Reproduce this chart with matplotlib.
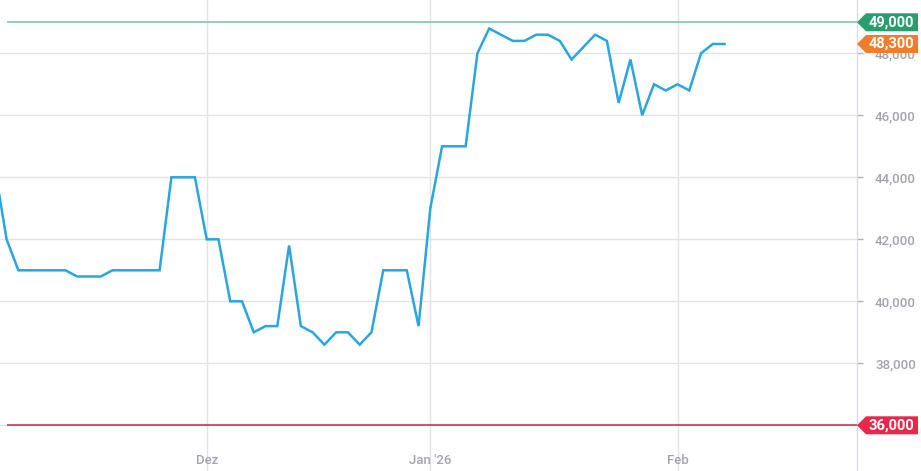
import matplotlib
matplotlib.use("Agg")
import matplotlib.pyplot as plt
from matplotlib.patches import Polygon
from matplotlib.transforms import IdentityTransform
from matplotlib.ticker import FuncFormatter

# ---- data (trading-day series) ----
prices = [44300, 42000,
          41000, 41000, 41000, 41000, 41000,
          40800, 40800, 40800,
          41000, 41000, 41000, 41000, 41000,
          44000, 44000, 44000,
          42000, 42000, 40000, 40000, 39000, 39200, 39200, 41800, 39200, 39000,
          38600, 39000, 39000, 38600, 39000, 41000, 41000, 41000, 39200,
          43000, 45000, 45000, 45000, 48000, 48800, 48600, 48400, 48400, 48600,
          48600, 48400, 47800, 48200, 48600, 48400, 46400, 47800, 46000, 47000,
          46800, 47000, 46800, 48000, 48300, 48300]
month_labels = ["Dez", "Jan '26", "Feb"]
month_index = [18, 37, 58]
grid_levels = [36000, 38000, 40000, 42000, 44000, 46000, 48000]
y_ticks = [38000, 40000, 42000, 44000, 46000, 48000]
upper_level = 49000
lower_level = 36000
last_price = prices[-1]

W, H = 921, 471
fig = plt.figure(figsize=(W / 100, H / 100), dpi=100)
ax = fig.add_axes([0, 0, 857 / W, 1])

x = list(range(len(prices)))
ax.set_xlim(0.44, 73.25)
ax.set_ylim(34526, 49719)

grid_c = "#e2e2e8"
for v in grid_levels:
    ax.axhline(v, color=grid_c, lw=1.0, zorder=1)
for m in month_index:
    ax.axvline(m, color=grid_c, lw=1.0, zorder=1)

ax.plot(x, prices, color="#2aa6de", lw=1.8, zorder=4, solid_joinstyle="miter")

xmax = ax.get_xlim()[1]
ax.hlines(upper_level, 1, xmax, color="#7fc9a4", lw=1.2, zorder=3)
ax.hlines(lower_level, 1, xmax, color="#cc3656", lw=1.2, zorder=3)

for sp in ["left", "top", "bottom"]:
    ax.spines[sp].set_visible(False)
ax.spines["right"].set_color("#dcdce4")
ax.spines["right"].set_linewidth(1.0)

ax.set_xticks([])
ax.yaxis.tick_right()
ax.set_yticks(y_ticks)
ax.yaxis.set_major_formatter(FuncFormatter(lambda v, p: f"{int(v):,}"))
ax.tick_params(axis="y", length=4, width=1, color="#b0b0b8", pad=9,
               labelsize=9.5, labelcolor="#a3a3ad")
for lab in ax.get_yticklabels():
    lab.set_fontfamily("Roboto")
    lab.set_fontweight(500)

for m, lab in zip(month_index, month_labels):
    ax.text(m, 0.022, lab, transform=ax.get_xaxis_transform(), ha="center",
            va="center", fontsize=9.5, color="#a3a3ad", family="Roboto",
            fontweight=500, zorder=5)

# badges
def badge(value, color):
    fig.canvas.draw()
    yc = ax.transData.transform((1, value))[1]
    x0 = ax.transAxes.transform((1, 0))[0]
    hh = 9
    pts = [(x0, yc), (x0 + 9, yc - hh), (918, yc - hh), (918, yc + hh), (x0 + 9, yc + hh)]
    poly = Polygon(pts, closed=True, facecolor=color, edgecolor="none",
                   transform=IdentityTransform(), zorder=10)
    fig.add_artist(poly)
    fig.text(891, yc, f"{value:,}", transform=IdentityTransform(), ha="center",
             va="center", color="white", fontsize=10.5, fontweight="bold",
             family="Roboto", zorder=11)

badge(upper_level, "#2a9d6e")
badge(last_price, "#f07d2b")
badge(lower_level, "#e8284a")

fig.savefig("out.png", dpi=100)
